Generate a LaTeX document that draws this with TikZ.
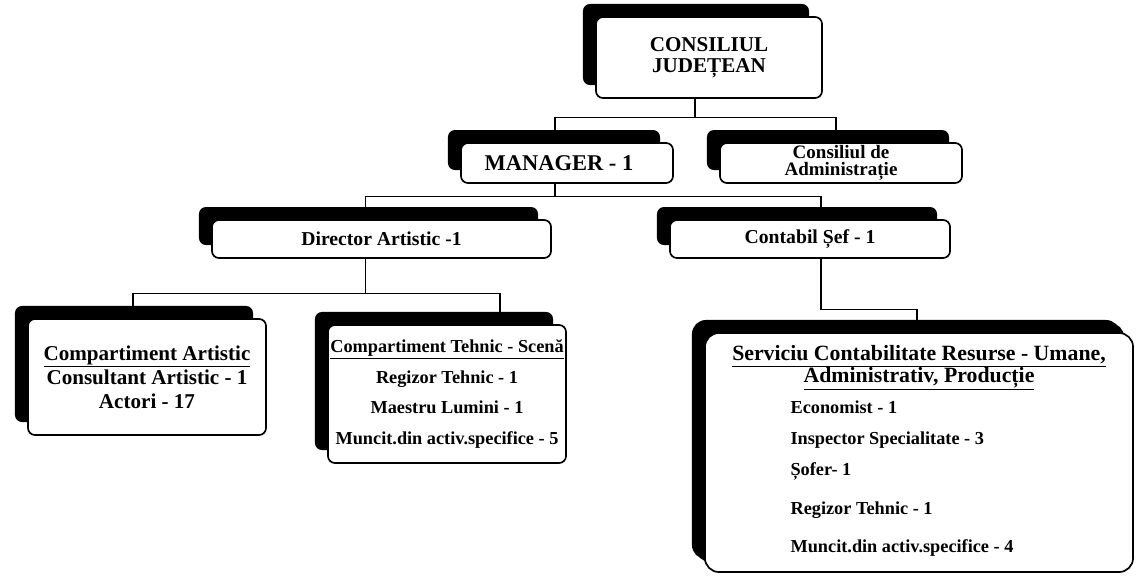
\documentclass[tikz,border=0pt]{standalone}
\usepackage{fontspec}
\setmainfont{Liberation Serif}
\usetikzlibrary{calc,shadows,backgrounds}

\begin{document}
\begin{tikzpicture}[x=0.025cm,y=-0.025cm,
 every node/.style={font=\bfseries\fontsize{14}{16}\selectfont},
 post/.style={draw,line width=1.2pt,rounded corners=5pt,fill=white,align=center,inner sep=0pt,
   general shadow={fill=black,shadow xshift=-0.325cm,shadow yshift=0.325cm}},
 link/.style={line width=0.9pt}]
\useasboundingbox (0,0) rectangle (1136,575);
% top levels
\node[post,minimum width=5.65cm,minimum height=2.025cm,font=\bfseries\fontsize{15}{15}\selectfont] (cj) at (709,57.5) {CONSILIUL\\JUDEȚEAN};
\node[post,minimum width=5.3cm,minimum height=1cm,font=\bfseries\fontsize{16}{16}\selectfont] (mgr) at (567,163) {\hspace*{-0.4cm}MANAGER - 1};
\node[post,minimum width=6.05cm,minimum height=1cm,font=\bfseries\fontsize{13.5}{12.5}\selectfont] (cda) at (841,163) {Consiliul de\\Administrație};
\node[post,minimum width=8.475cm,minimum height=0.95cm] (dir) at (381.5,239) {Director Artistic -1};
\node[post,minimum width=7cm,minimum height=0.95cm] (con) at (810,239) {Contabil Șef - 1};
% compartments
\node[post,minimum width=5.95cm,minimum height=2.9cm,font=\bfseries\fontsize{15}{17}\selectfont] (ca) at (147,377)
 {\underline{Compartiment Artistic}\\Consultant Artistic - 1\\Actori - 17};
\node[post,minimum width=5.95cm,minimum height=3.45cm,font=\bfseries\fontsize{13}{16}\selectfont] (ct) at (447,394)
 {\underline{Compartiment Tehnic - Scenă}\\[6pt]Regizor Tehnic - 1\\[6pt]Maestru Lumini - 1\\[6pt]Muncit.din activ.specifice - 5};
\node[post,rounded corners=10pt,minimum width=10.7cm,minimum height=5.975cm,
 general shadow={fill=black,shadow xshift=-0.225cm,shadow yshift=0.25cm}] (serv) at (919,452.5)
 {\fontsize{15.5}{16}\selectfont\underline{Serviciu Contabilitate Resurse - Umane,}\\[-1pt]
  \fontsize{15.5}{16}\selectfont\underline{Administrativ, Producție}\\[4pt]
  \hspace*{-0.85cm}\fontsize{13}{16}\selectfont\begin{tabular}{@{}l@{}}Economist - 1\\[6pt]Inspector Specialitate - 3\\[6pt]Șofer- 1\\[12pt]Regizor Tehnic - 1\\[11pt]Muncit.din activ.specifice - 4\end{tabular}};
% connectors
\begin{scope}[on background layer]
\draw[link] ($(cj.south)+(-14,0)$) -- ++(0,19) coordinate (j1);
\draw[link] ($(mgr.north)+(-12,0)$) |- (j1) -| ($(cda.north)+(-5,0)$);
\draw[link] ($(mgr.south)+(-12,0)$) -- ++(0,13) coordinate (j2);
\draw[link] ($(dir.north)+(-16,0)$) |- (j2) -| ($(con.north)+(11,0)$);
\draw[link] ($(dir.south)+(-16,0)$) -- ++(0,35) coordinate (j3);
\draw[link] ($(ca.north)+(-14,0)$) |- (j3) -| ($(ct.north)+(53,0)$);
\draw[link] ($(con.south)+(11,0)$) |- ($(serv.north)+(-2,-23)$) -- ($(serv.north)+(-2,0)$);
\end{scope}
\end{tikzpicture}
\end{document}
